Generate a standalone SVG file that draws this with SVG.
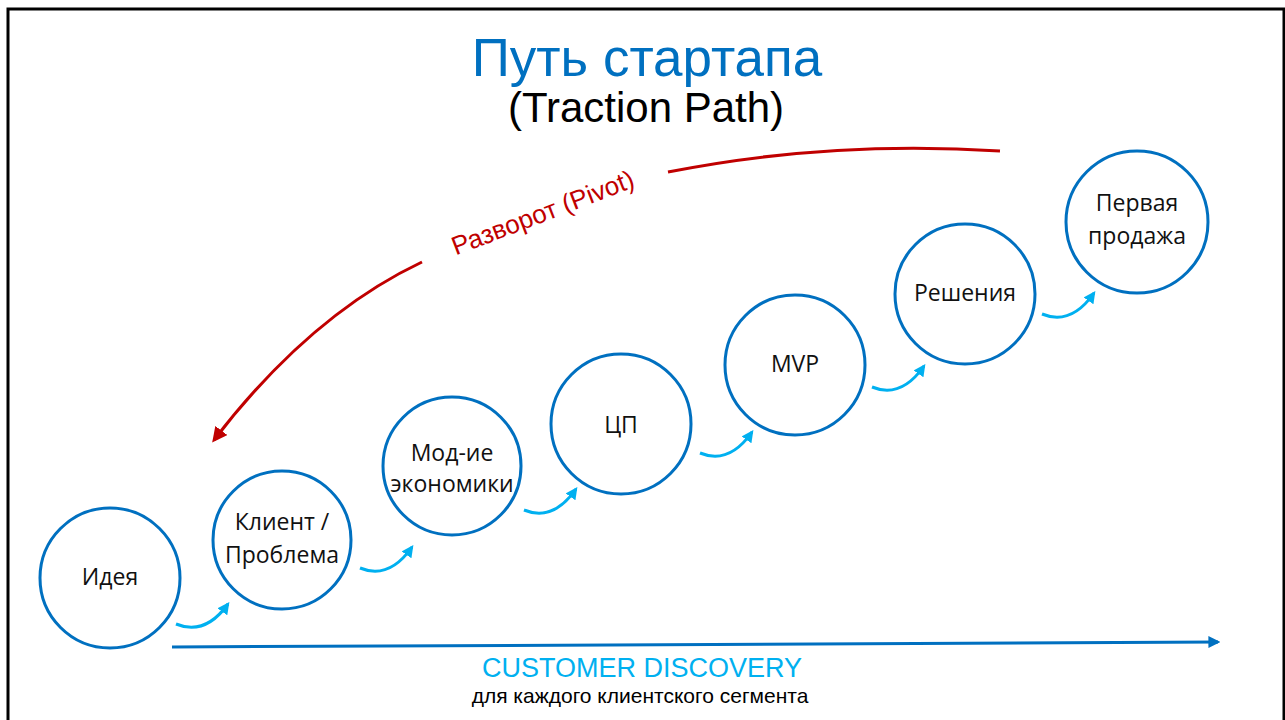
<svg xmlns="http://www.w3.org/2000/svg" width="1285" height="720" viewBox="0 0 1285 720">
  <style>
    .node circle { fill: #ffffff; stroke: #0070C0; stroke-width: 3; }
    .node text { font-family: "Open Sans", "Liberation Sans", sans-serif; font-size: 23px; fill: #111111; text-anchor: middle; }
    .step { fill: none; stroke: #00B0F0; stroke-width: 3; }
    .pivot { fill: none; stroke: #C00000; stroke-width: 3; }
  </style>
  <defs>
    <marker id="stepHead" viewBox="0 0 10 10" refX="8" refY="5" markerWidth="4" markerHeight="4" orient="auto" markerUnits="strokeWidth">
      <path d="M0,0 L10,5 L0,10 z" fill="#00B0F0"/>
    </marker>
    <marker id="pivotHead" viewBox="0 0 10 10" refX="8" refY="5" markerWidth="5" markerHeight="5" orient="auto" markerUnits="strokeWidth">
      <path d="M0,0 L10,5 L0,10 z" fill="#C00000"/>
    </marker>
    <marker id="axisHead" viewBox="0 0 10 10" refX="8" refY="5" markerWidth="4" markerHeight="5" orient="auto" markerUnits="strokeWidth">
      <path d="M0,0 L10,5 L0,10 z" fill="#0070C0"/>
    </marker>
  </defs>

  <rect width="1285" height="720" fill="#ffffff"/>
  <!-- frame -->
  <path d="M8,720 L8,9 L1284,9 L1284,720" fill="none" stroke="#000000" stroke-width="3"/>

  <!-- title -->
  <text x="647" y="76" font-family="Liberation Sans, Arial, sans-serif" font-size="53" fill="#0070C0" text-anchor="middle">Путь стартапа</text>
  <text x="646" y="122" font-family="Liberation Sans, Arial, sans-serif" font-size="42" fill="#000000" text-anchor="middle">(Traction Path)</text>

  <!-- connectors -->
  <g id="connectors">
    <path class="step" d="M176,624 Q205,636 228,604" marker-end="url(#stepHead)"/>
    <path class="step" d="M360,568 Q389,580 412,547" marker-end="url(#stepHead)"/>
    <path class="step" d="M524,510 Q553,522 576,489" marker-end="url(#stepHead)"/>
    <path class="step" d="M700,453 Q729,465 752,432" marker-end="url(#stepHead)"/>
    <path class="step" d="M872,387 Q901,399 924,366" marker-end="url(#stepHead)"/>
    <path class="step" d="M1042,314 Q1071,326 1094,293" marker-end="url(#stepHead)"/>

    <path class="pivot" d="M1000,151 Q830,140 668,172"/>
    <path class="pivot" d="M422,262 Q310,315 214,440" marker-end="url(#pivotHead)"/>

    <path d="M172,647 L1218,642" fill="none" stroke="#0070C0" stroke-width="3" marker-end="url(#axisHead)"/>
  </g>

  <text x="546" y="221" transform="rotate(-21 546 221)" font-family="Liberation Sans, Arial, sans-serif" font-size="26" fill="#C00000" text-anchor="middle">Разворот (Pivot)</text>

  <!-- nodes -->
  <g id="node-idea" class="node">
    <circle cx="110" cy="578" r="70"/>
    <text x="110" y="585">Идея</text>
  </g>
  <g id="node-client" class="node">
    <circle cx="282" cy="540" r="69"/>
    <text x="282" y="530">Клиент /</text>
    <text x="282" y="563">Проблема</text>
  </g>
  <g id="node-economics" class="node">
    <circle cx="452" cy="466" r="69"/>
    <text x="452" y="461">Мод-ие</text>
    <text x="452" y="492">экономики</text>
  </g>
  <g id="node-vp" class="node">
    <circle cx="621" cy="424" r="70"/>
    <text x="621" y="433">ЦП</text>
  </g>
  <g id="node-mvp" class="node">
    <circle cx="795" cy="365" r="70"/>
    <text x="795" y="372">MVP</text>
  </g>
  <g id="node-solutions" class="node">
    <circle cx="965" cy="294" r="70"/>
    <text x="965" y="301">Решения</text>
  </g>
  <g id="node-first-sale" class="node">
    <circle cx="1137" cy="222" r="71"/>
    <text x="1137" y="211">Первая</text>
    <text x="1137" y="244">продажа</text>
  </g>

  <!-- axis caption -->
  <text x="642" y="677" font-family="Liberation Sans, Arial, sans-serif" font-size="27" fill="#00B0F0" text-anchor="middle">CUSTOMER DISCOVERY</text>
  <text x="640" y="703" font-family="Liberation Sans, Arial, sans-serif" font-size="21" fill="#000000" text-anchor="middle">для каждого клиентского сегмента</text>
</svg>
